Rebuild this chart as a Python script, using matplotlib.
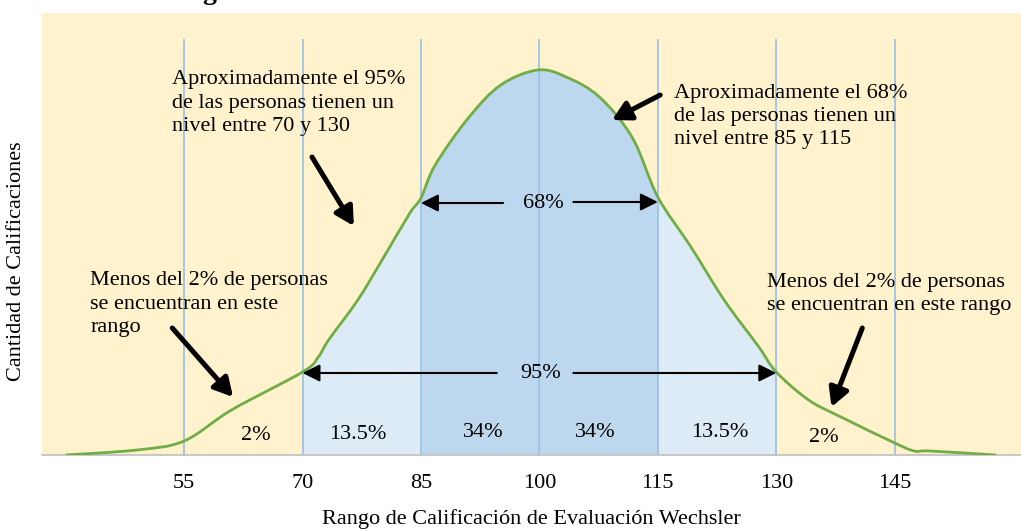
import numpy as np
import matplotlib.pyplot as plt
from matplotlib.path import Path
from matplotlib.patches import PathPatch

plt.rcParams['font.family'] = ['Liberation Serif', 'DejaVu Serif']

# curve (IQ score, height in arbitrary units)
iq = [40, 49, 55, 61, 70, 72, 73.3, 77, 80.3, 83.6, 85, 86.8, 91, 95.1, 99.8,
      103.4, 107.6, 111.8, 115, 119.2, 123.4, 127.8, 130, 134.1, 138.2, 145,
      147.5, 149.5, 157.8]
freq = [0, 5, 14, 45, 83, 98, 115, 155, 198, 242, 257, 290, 337, 370, 385,
        378, 358, 317, 258, 208, 155, 108, 83, 55, 38, 12, 4, 4, 0]

ticks = [55, 70, 85, 100, 115, 130, 145]
band_labels = ['2%', '13.5%', '34%', '34%', '13.5%', '2%']
band_x = [64.1, 77.0, 92.9, 107.1, 122.9, 136.0]
band_y = [15, 16, 18, 18, 18, 13]

bg = '#FFF2CC'
light = '#DDEBF7'
dark = '#BDD7EE'
vline = '#9DC3E6'
green = '#70AD47'
fs = 16


# smoothed line like excel: catmull-rom segments as cubic bezier path
def smooth_path(xs, ys, close=False):
    pts = np.column_stack([xs, ys]).astype(float)
    n = len(pts)
    verts = [pts[0]]
    codes = [Path.MOVETO]
    for i in range(n - 1):
        p0 = pts[max(i - 1, 0)]
        p1 = pts[i]
        p2 = pts[i + 1]
        p3 = pts[min(i + 2, n - 1)]
        verts += [p1 + (p2 - p0) / 6, p2 - (p3 - p1) / 6, p2]
        codes += [Path.CURVE4] * 3
    if close:
        verts += [pts[0], pts[0]]
        codes += [Path.LINETO, Path.CLOSEPOLY]
    return Path(verts, codes)


fig = plt.figure(figsize=(10.21, 5.30), dpi=100)
ax = fig.add_axes([42/1021, 1-455/530, 1-42/1021, 442/530])
ax.set_facecolor(bg)
ax.set_xlim(37.0, 161.0)
ax.set_ylim(0, 442)

area = PathPatch(smooth_path(iq, freq, close=True), transform=ax.transData,
                 facecolor='none', edgecolor='none')
ax.add_patch(area)
s95 = ax.axvspan(70, 130, color=light, lw=0, zorder=1)
s68 = ax.axvspan(85, 115, color=dark, lw=0, zorder=1.5)
s95.set_clip_path(area)
s68.set_clip_path(area)

ax.vlines(ticks, 0, 416, color=vline, lw=1.3, zorder=2)
ax.add_patch(PathPatch(smooth_path(iq, freq), facecolor='none', edgecolor=green,
                       lw=2.0, zorder=3))

ax.set_xticks(ticks)
ax.set_xticklabels([str(t) for t in ticks], fontsize=fs)
ax.tick_params(axis='x', length=0, pad=14)
ax.set_yticks([])
for s in ['top', 'left', 'right']:
    ax.spines[s].set_visible(False)
ax.spines['bottom'].set_color('#BFBFBF')
ax.spines['bottom'].set_linewidth(1.2)

ax.set_xlabel('Rango de Calificación de Evaluación Wechsler', fontsize=fs, labelpad=11)
fig.text(17/1021, 1-261/530, 'Cantidad de Calificaciones', rotation=90,
         ha='center', va='center', fontsize=fs)

# band percentages
for x, y, t in zip(band_x, band_y, band_labels):
    ax.text(x, y, t, ha='center', va='baseline', fontsize=fs, zorder=5)

# notes (baseline = last line)
ls = 1.32
ax.text(53.5, 324, 'Aproximadamente el 95%\nde las personas tienen un\nnivel entre 70 y 130',
        fontsize=fs, va='baseline', ha='left', linespacing=ls, zorder=5)
ax.text(117.0, 311, 'Aproximadamente el 68%\nde las personas tienen un\nnivel entre 85 y 115',
        fontsize=fs, va='baseline', ha='left', linespacing=1.28, zorder=5)
ax.text(43.1, 123, 'Menos del 2% de personas\nse encuentran en este\nrango',
        fontsize=fs, va='baseline', ha='left', linespacing=ls, zorder=5)
ax.text(128.8, 145, 'Menos del 2% de personas\nse encuentran en este rango',
        fontsize=fs, va='baseline', ha='left', linespacing=ls, zorder=5)

# 68% / 95% spans
ax.text(100.5, 247, '68%', ha='center', va='baseline', fontsize=fs, zorder=5)
ax.text(100.1, 77, '95%', ha='center', va='baseline', fontsize=fs, zorder=5)
thin = dict(arrowstyle='-|>,head_length=0.7,head_width=0.35', lw=1.5, color='black',
            shrinkA=0, shrinkB=0, mutation_scale=15)
ax.annotate('', xy=(85, 252), xytext=(95.4, 252), arrowprops=thin, zorder=5)
ax.annotate('', xy=(115, 253), xytext=(104.3, 253), arrowprops=thin, zorder=5)
ax.annotate('', xy=(70, 82), xytext=(94.6, 82), arrowprops=thin, zorder=5)
ax.annotate('', xy=(130, 82), xytext=(104.3, 82), arrowprops=thin, zorder=5)

thick = dict(arrowstyle='-|>,head_length=0.55,head_width=0.3', lw=3.6, color='black',
             shrinkA=0, shrinkB=0, mutation_scale=20)
ax.annotate('', xy=(76.5, 229), xytext=(71.2, 298), arrowprops=thick, zorder=5)
ax.annotate('', xy=(109.2, 335), xytext=(115.3, 360), arrowprops=thick, zorder=5)
ax.annotate('', xy=(61.2, 58), xytext=(53.5, 127), arrowprops=thick, zorder=5)
ax.annotate('', xy=(137.0, 48), xytext=(140.9, 127), arrowprops=thick, zorder=5)

# title cut off at the top edge in the original
fig.text(209/1021, 1+1/530, 'g', ha='center', va='baseline', fontsize=20,
         fontweight='bold')

fig.savefig('out.png', dpi=100)
